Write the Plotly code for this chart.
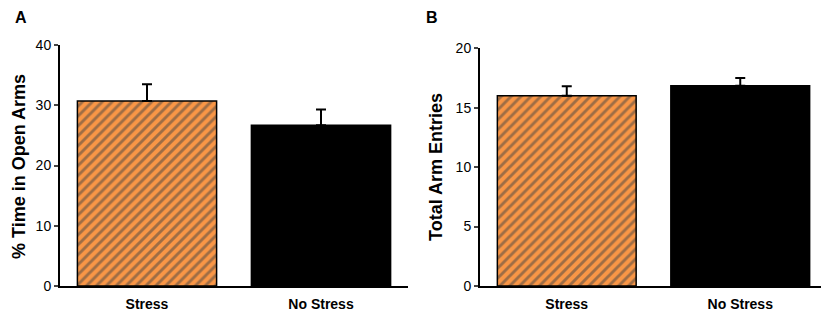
import plotly.graph_objects as go

categories = ["Stress", "No Stress"]
open_arms_pct = [30.7, 26.7]
open_arms_sem = [2.8, 2.6]
arm_entries = [16.0, 16.85]
arm_entries_sem = [0.8, 0.65]
yticks_a = [0, 10, 20, 30, 40]
yticks_b = [0, 5, 10, 15, 20]

# page body has an 8px margin: shrink the figure and shift coordinates
OFF = 8
W, H = 829 - OFF, 311 - OFF
FONT = "Liberation Sans, Arial, sans-serif"
ORANGE = "#F99646"

fig = go.Figure()

def add_bars(vals, errs, xa, ya):
    fig.add_trace(go.Bar(
        x=categories, y=vals, xaxis=xa, yaxis=ya, width=0.8,
        marker=dict(
            color=[ORANGE, "black"],
            line=dict(color="black", width=1.5),
            pattern=dict(shape=["/", ""], fgcolor="black",
                         size=7, solidity=0.42, fillmode="overlay"),
        ),
        error_y=dict(type="data", array=errs, arrayminus=[0, 0], symmetric=False,
                     color="black", thickness=2, width=5),
        showlegend=False,
    ))

add_bars(open_arms_pct, open_arms_sem, "x", "y")
add_bars(arm_entries, arm_entries_sem, "x2", "y2")

def px_x(p):
    return (p - OFF) / W

def px_y(p):
    return (H - (p - OFF)) / H

tick_font = dict(family=FONT, size=14, color="black")
cat_font = dict(family=FONT, size=14, color="black")
title_font = dict(family=FONT, size=18, color="black")

common_y = dict(showline=True, linecolor="black", linewidth=2, ticks="outside",
                ticklen=4, tickwidth=1.5, showgrid=False, zeroline=False,
                tickfont=tick_font, automargin=False,
                tickprefix="<b>", ticksuffix="</b>")
common_x = dict(range=[-0.5, 1.5], showline=True, linecolor="black", linewidth=2,
                ticks="", showgrid=False, tickfont=cat_font, automargin=False,
                ticklabelstandoff=4,
                tickprefix="<b>", ticksuffix="</b>")

fig.update_layout(
    width=W, height=H,
    margin=dict(l=0, r=0, t=0, b=0),
    plot_bgcolor="white", paper_bgcolor="white",
    font=dict(family=FONT, color="black"),
    xaxis=dict(domain=[px_x(60), px_x(408)], anchor="y", **common_x),
    yaxis=dict(domain=[px_y(286), px_y(45)], range=[0, 40], tickvals=yticks_a,
               anchor="x", **common_y),
    xaxis2=dict(domain=[px_x(480), px_x(827)], anchor="y2", **common_x),
    yaxis2=dict(domain=[px_y(286), px_y(48.3)], range=[0, 20], tickvals=yticks_b,
                anchor="x2", **common_y),
)

# y-axis titles
for text, xp, yp in (("% Time in Open Arms", 19, 167), ("Total Arm Entries", 436, 167)):
    fig.add_annotation(text=f"<b>{text}</b>", x=px_x(xp), y=px_y(yp), xref="paper", yref="paper",
                       xanchor="center", yanchor="middle", textangle=-90, showarrow=False,
                       font=title_font)

# panel letters
for label, xp in (("A", 21), ("B", 432)):
    fig.add_annotation(text=f"<b>{label}</b>", x=px_x(xp), y=px_y(18), xref="paper", yref="paper",
                       xanchor="center", yanchor="middle", showarrow=False,
                       font=dict(family=FONT, size=16, color="black"))

fig.write_html("out.html")
